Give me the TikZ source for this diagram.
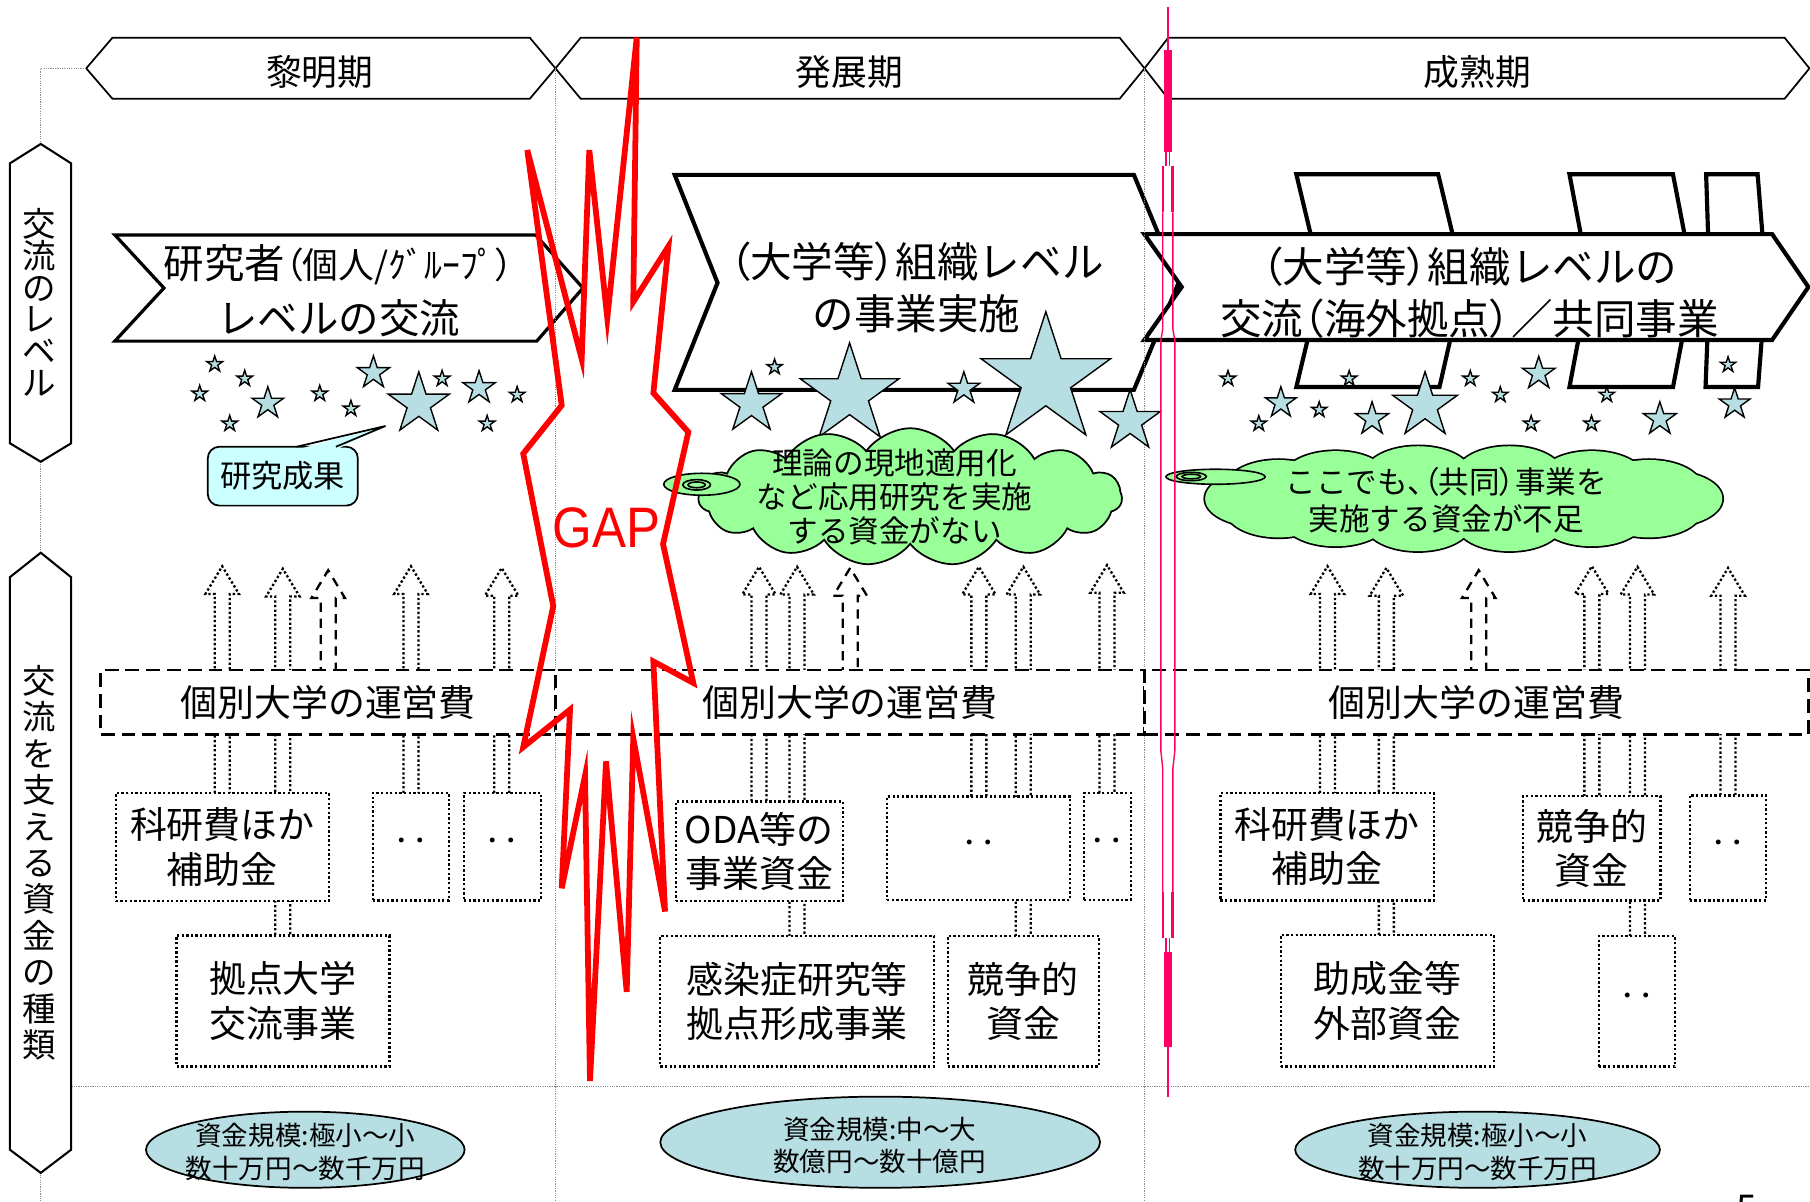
\documentclass[tikz,border=0pt]{standalone}
\usepackage{fontspec}
\setmainfont{Noto Sans CJK JP}
\newfontfamily\pfont{Noto Sans CJK JP}[RawFeature=+palt]
\newfontfamily\gapfont{Liberation Sans}
\usetikzlibrary{shapes.symbols,shapes.geometric}
\newlength{\rr}\setlength{\rr}{0.5pt}
\definecolor{starblue}{HTML}{B7DEE2}
\definecolor{callcyan}{HTML}{CCFFFF}
\definecolor{cloudgreen}{HTML}{99FF99}
\definecolor{pinkline}{HTML}{FF0066}
\tikzset{
 hdr/.style={draw=black, line width=0.75pt},
 hdrtext/.style={font=\fontsize{15.5}{15.5}\selectfont, inner sep=0},
 bannerA/.style={draw=black, line width=1.4pt, fill=white},
 bannerB/.style={draw=black, line width=1.8pt, fill=white},
 guide/.style={draw=black!45, line width=0.4pt, dash pattern=on 0.5pt off 0.5pt},
 sidebox/.style={draw=black, line width=0.9pt, fill=white},
 starsty/.style={draw=black, line width=0.6pt, fill=starblue},
 dotbox/.style={draw=black, line width=1pt, dash pattern=on 1pt off 1pt, fill=white, inner sep=0, align=center, font=\fontsize{16}{19.25}\selectfont},
 dotarrow/.style={draw=black, line width=1pt, dash pattern=on 1pt off 1pt},
 dasharrow/.style={draw=black, line width=1pt, dash pattern=on 4pt off 3pt},
 opbox/.style={draw=black, line width=1.2pt, dash pattern=on 6pt off 3pt, fill=white, inner sep=0, font=\fontsize{16}{16}\selectfont},
 ellsty/.style={ellipse, draw=black, line width=0.75pt, fill=starblue, inner sep=0},
 elltext/.style={font=\fontsize{11.5}{14}\selectfont, align=center, inner sep=0},
 cloudsty/.style={cloud, cloud ignores aspect, draw=black, line width=0.75pt, fill=cloudgreen, inner sep=0},
 puffedge/.style={draw=black, line width=1.5pt, fill=cloudgreen},
 tailsty/.style={draw=black, line width=0.7pt, fill=cloudgreen},
 gapline/.style={draw=red, line width=2.5pt},
 pinkthin/.style={draw=pinkline, line width=0.6pt},
}
\newcommand{\mystar}[3]{\filldraw[starsty,shift={(#1,#2)}] (270:#3) -- (306:{0.382*#3}) -- (342:#3) -- (18:{0.382*#3}) -- (54:#3) -- (90:{0.382*#3}) -- (126:#3) -- (162:{0.382*#3}) -- (198:#3) -- (234:{0.382*#3}) -- cycle;}
\newcommand{\uparr}[4]{\draw[#4] ({#1-6.5},#2) -- ({#1-6.5},{#3+24}) -- ({#1-14.5},{#3+24}) -- (#1,#3) -- ({#1+14.5},{#3+24}) -- ({#1+6.5},{#3+24}) -- ({#1+6.5},#2);}
\begin{document}
\begin{tikzpicture}[x=0.5pt,y=-0.5pt]
\fill[white] (0,0) rectangle (1568,1041);
\useasboundingbox (0,0) rectangle (1568,1041);

% ---------- headers
\draw[hdr] (74.7,59.2) -- (97.4,32.7) -- (459,32.7) -- (481.2,59.2) -- (459,85.5) -- (97.4,85.5) -- cycle;
\draw[hdr] (481.2,59.2) -- (503,32.7) -- (970,32.7) -- (991.5,59.2) -- (970,85.5) -- (503,85.5) -- cycle;
\draw[hdr] (991.5,59.2) -- (1012,32.7) -- (1546,32.7) -- (1567.5,59.2) -- (1546,85.5) -- (1012,85.5) -- cycle;
\node[hdrtext] (h1t) at (277,62) {黎明期};
\node[hdrtext] (h2t) at (736,62) {発展期};
\node[hdrtext] (h3t) at (1280,62) {成熟期};

% ---------- banners
\draw[bannerA] (99.5,203.5) -- (464,203.5) -- (505,249.5) -- (465,295.5) -- (99.5,295.5) -- (142,249.5) -- cycle;
\draw[bannerB] (584.5,151.5) -- (982.3,151.5) -- (1021,245) -- (982.3,337.7) -- (584.5,337.7) -- (621.6,245) -- cycle;
\draw[bannerB] (1123,151) -- (1245.9,151) -- (1268,243) -- (1247,335.3) -- (1123,335.3) -- (1145,243) -- cycle;
\draw[bannerB] (1359.6,151) -- (1449.3,151) -- (1467,243) -- (1449.3,335.3) -- (1359.6,335.3) -- (1377,243) -- cycle;
\draw[bannerB] (1478,151) -- (1522.6,151) -- (1530,243) -- (1523,335.3) -- (1477.5,335.3) -- (1481,243) -- cycle;
\draw[bannerB] (991.3,202.8) -- (1535.2,202.8) -- (1566.6,248.6) -- (1535.2,294.5) -- (991.3,294.5) -- (1023.7,248.6) -- cycle;
\node[font=\fontsize{17.5}{24}\selectfont, align=center, inner sep=0] (b1t) at (293.5,252)
  {研究者{\fontsize{15.5}{24}\selectfont{\pfont （}個人/ｸﾞﾙｰﾌﾟ{\pfont ）}}\\レベルの交流};
\node[font=\fontsize{18}{22.75}\selectfont, align=center, inner sep=0] (b2t) at (794,249)
  {{\pfont （}大学等{\pfont ）}組織レベル\\の事業実施};
\node[font=\fontsize{18}{22.5}\selectfont, align=center, inner sep=0] (b3t) at (1273,253.5)
  {{\pfont （}大学等{\pfont ）}組織レベルの\\交流{\pfont （}海外拠点{\pfont ）}／共同事業};

% ---------- guides
\draw[guide] (74.7,59.2) -- (35.3,59.2) -- (35.3,1041);
\draw[guide] (481.2,59.2) -- (481.2,1041);
\draw[guide] (991.5,59.2) -- (991.5,1041);
\draw[guide] (62,941) -- (1568,941);

% ---------- side boxes
\draw[sidebox] (35.3,124.7) -- (61.6,141.5) -- (61.6,384) -- (35.3,400) -- (8.6,384) -- (8.6,141.5) -- cycle;
\draw[sidebox] (35.3,478.8) -- (61.6,500) -- (61.6,996) -- (35.3,1016) -- (8.6,996) -- (8.6,500) -- cycle;
\node[font=\fontsize{14.5}{13.75}\selectfont, align=center, inner sep=0] (s1t) at (34,262) {交\\流\\の\\レ\\ベ\\ル};
\node[font=\fontsize{14.5}{15.8}\selectfont, align=center, inner sep=0] (s2t) at (34,747.4) {交\\流\\を\\支\\え\\る\\資\\金\\の\\種\\類};

% ---------- stars under B1
\mystar{186}{315.5}{7.2}
\mystar{212}{328}{7.2}
\mystar{173}{341}{7.2}
\mystar{232}{349.4}{14.4}
\mystar{277}{341}{7.2}
\mystar{199}{367}{7.2}
\mystar{304}{354}{7.2}
\mystar{323.5}{323}{14.7}
\mystar{362.8}{350}{27.9}
\mystar{383}{328}{7.2}
\mystar{415}{336}{14.9}
\mystar{448}{342}{7.2}
\mystar{422}{367}{7.2}
% stars under B2
\mystar{671}{318}{7}
\mystar{651}{349.5}{27.5}
\mystar{736}{342}{45}
\mystar{835}{336.5}{14.5}
\mystar{906}{329}{59}
\mystar{979}{365}{27.5}
% stars under B3
\mystar{1063.8}{328}{7}
\mystar{1168.8}{328}{7}
\mystar{1273.7}{328}{7}
\mystar{1333}{323.6}{15}
\mystar{1497}{316}{7}
\mystar{1109.6}{349}{14}
\mystar{1142.8}{355}{7}
\mystar{1299.7}{342}{7}
\mystar{1392}{342}{7}
\mystar{1188.6}{363}{15}
\mystar{1234.5}{351.5}{29.5}
\mystar{1090.5}{367}{7}
\mystar{1326.4}{367}{7}
\mystar{1378.7}{367}{7}
\mystar{1437.9}{363}{15}
\mystar{1502.7}{350}{14}

% ---------- callout 研究成果
\node[draw=black, line width=0.75pt, fill=callcyan, rounded corners=5pt, minimum width=130\rr, minimum height=51\rr, inner sep=0, font=\fontsize{13.5}{13.5}\selectfont] (kenkyu) at (245,412.5) {研究成果};
\fill[callcyan] (257,389.5) -- (334,369) -- (291,389.5) -- cycle;
\draw[line width=0.75pt] (257,387) -- (334,369) -- (291,387);

% ---------- cloud 1
\node[cloudsty, cloud puffs=15, cloud puff arc=110, minimum width=367\rr, minimum height=119\rr] (cloud1) at (788.5,430.5) {};
\draw[tailsty] (608,419.5) ellipse [x radius=33, y radius=9.5];
\draw[tailsty] (603.5,420) ellipse [x radius=12, y radius=4.5];
\draw[tailsty] (603.5,420) ellipse [x radius=7.5, y radius=2.5];
\node[font=\fontsize{13.25}{14.6}\selectfont, align=center, inner sep=0] (c1t) at (775,430.6) {理論の現地適用化\\など応用研究を実施\\する資金がない};

% ---------- cloud 2 (union of puffs: outline pass, then fill pass)
\foreach \a in {0,25.714,...,340} {
  \filldraw[puffedge, shift={(1268,432)}] ({178*cos(\a)},{22*sin(\a)}) ellipse [x radius=46, y radius=24];
}
\foreach \a in {0,25.714,...,340} {
  \fill[cloudgreen, shift={(1268,432)}] ({178*cos(\a)},{22*sin(\a)}) ellipse [x radius=46, y radius=24];
}
\fill[cloudgreen] (1268,432) ellipse [x radius=178, y radius=24];
\draw[tailsty] (1053,413) ellipse [x radius=43, y radius=6.5];
\draw[tailsty] (1032,412.8) ellipse [x radius=13, y radius=3.6];
\draw[tailsty] (1032,412.8) ellipse [x radius=8, y radius=2];
\node[font=\fontsize{13.25}{16}\selectfont, align=center, inner sep=0] (c2t) at (1253,433) {ここでも{\pfont 、（}共同{\pfont ）}事業を\\実施する資金が不足};

% ---------- up arrows
\uparr{192.5}{687}{490.5}{dotarrow}
\uparr{245}{810}{492.7}{dotarrow}
\uparr{284.3}{600}{494}{dasharrow}
\uparr{356}{687}{490.5}{dotarrow}
\uparr{434.6}{687}{492}{dotarrow}
\uparr{657.5}{694}{491}{dotarrow}
\uparr{690.5}{811}{491}{dotarrow}
\uparr{736.5}{600}{492}{dasharrow}
\uparr{848}{690}{491}{dotarrow}
\uparr{886.5}{811}{491}{dotarrow}
\uparr{959}{687}{489.5}{dotarrow}
\uparr{1150}{687}{490.5}{dotarrow}
\uparr{1201}{810}{492}{dotarrow}
\uparr{1281}{600}{494}{dasharrow}
\uparr{1379}{690}{490.5}{dotarrow}
\uparr{1418.5}{811}{491}{dotarrow}
\uparr{1497}{689}{492}{dotarrow}

% ---------- funding boxes
\node[dotbox, minimum width=184.7\rr, minimum height=93.5\rr] (g1a) at (192.65,733.75) {科研費ほか\\補助金};
\node[dotbox, minimum width=66\rr, minimum height=93\rr] (g1b) at (356,733.5) {‥};
\node[dotbox, minimum width=66.5\rr, minimum height=93\rr] (g1c) at (435.25,733.5) {‥};
\node[dotbox, minimum width=184.3\rr, minimum height=113.7\rr] (g1d) at (245.15,867.15) {拠点大学\\交流事業};
\node[dotbox, minimum width=144.5\rr, minimum height=85.9\rr] (g2a) at (657.75,737.35) {ODA等の\\事業資金};
\node[dotbox, minimum width=158.6\rr, minimum height=89.6\rr] (g2b) at (847.7,734.8) {‥};
\node[dotbox, minimum width=40.5\rr, minimum height=92.6\rr] (g2c) at (959.25,733.3) {‥};
\node[dotbox, minimum width=237\rr, minimum height=113\rr] (g2d) at (690.5,867.5) {感染症研究等\\拠点形成事業};
\node[dotbox, minimum width=131\rr, minimum height=113\rr] (g2e) at (886.5,867.5) {競争的\\資金};
\node[dotbox, minimum width=184.7\rr, minimum height=93\rr] (g3a) at (1149.65,733.5) {科研費ほか\\補助金};
\node[dotbox, minimum width=119.1\rr, minimum height=90.3\rr] (g3b) at (1379.05,734.85) {競争的\\資金};
\node[dotbox, minimum width=66.2\rr, minimum height=91\rr] (g3c) at (1496.9,734.5) {‥};
\node[dotbox, minimum width=184.4\rr, minimum height=114\rr] (g3d) at (1201.8,867) {助成金等\\外部資金};
\node[dotbox, minimum width=66\rr, minimum height=113\rr] (g3e) at (1418,867.5) {‥};

% ---------- operating budget boxes
\node[opbox, minimum width=393.9\rr, minimum height=55.6\rr] (op1) at (284.25,608.2) {個別大学の運営費};
\node[opbox, minimum width=510.2\rr, minimum height=55.6\rr] (op2) at (736.3,608.2) {個別大学の運営費};
\node[opbox, minimum width=575.6\rr, minimum height=55.6\rr] (op3) at (1279.2,608.2) {個別大学の運営費};

% ---------- scale ellipses
\node[ellsty, minimum width=276\rr, minimum height=66\rr] (e1) at (264.5,996) {};
\node[ellsty, minimum width=381\rr, minimum height=79\rr] (e2) at (762.5,989.5) {};
\node[ellsty, minimum width=316\rr, minimum height=66\rr] (e3) at (1280,996) {};
\node[elltext] (e1t) at (264.5,998) {資金規模:極小～小\\数十万円～数千万円};
\node[elltext] (e2t) at (762,992.3) {資金規模:中～大\\数億円～数十億円};
\node[elltext] (e3t) at (1280,998) {資金規模:極小～小\\数十万円～数千万円};

% ---------- GAP explosion
\draw[gapline] (551.6,32.5) -- (548.6,261.5) -- (579,213.5) -- (566,340.4) -- (596.3,374.3) -- (574.4,471.3) -- (600.6,591.6) -- (566,573) -- (576.1,789.6) -- (548.6,639.5) -- (542.9,859.2) -- (525,659.6) -- (511.1,936.5) -- (506.8,672) -- (486.6,769.5) -- (493.8,614.7) -- (453.3,647.2) -- (479.3,525.1) -- (453.3,393) -- (486.6,351.2) -- (456.8,130) -- (503.9,311) -- (510.5,130) -- (526.1,275.4) -- cycle;
\node[text=red, font=\gapfont\fontsize{24}{24}\selectfont, inner sep=0] (gap) at (525.5,457) {\scalebox{0.92}[1.03]{GAP}};

% ---------- pink divider
\draw[draw=pinkline, line width=0.9pt] (1011.6,6) -- (1011.6,43);
\fill[pinkline] (1008.4,43) rectangle (1015,131.5);
\draw[pinkthin] (1010.2,131.5) -- (1010.2,144);
\draw[pinkthin] (1013.2,131.5) -- (1013.2,144);
\fill[pinkline] (1006.3,144) rectangle (1008.6,184);
\fill[pinkline] (1014.8,144) rectangle (1017.1,184);
\draw[pinkthin] (1007.3,184) -- (1007.3,285) -- (1005.6,295) -- (1005.6,650) -- (1007.3,666) -- (1007.3,772.6);
\draw[pinkthin] (1016,184) -- (1016,285) -- (1017.8,295) -- (1017.8,650) -- (1016,666) -- (1016,772.6);
\fill[pinkline] (1006.3,772.6) rectangle (1008.6,812.8);
\fill[pinkline] (1014.8,772.6) rectangle (1017.1,812.8);
\draw[pinkthin] (1010.2,812.8) -- (1010.2,825);
\draw[pinkthin] (1013.2,812.8) -- (1013.2,825);
\fill[pinkline] (1008.4,825) rectangle (1015,907);
\draw[draw=pinkline, line width=0.9pt] (1011.6,907) -- (1011.6,950.5);

% ---------- page number (cut by the lower edge, as in the reference)
\node[font=\fontsize{16}{16}\selectfont, anchor=north, inner sep=0] (pg) at (1513,1035) {5};
\end{tikzpicture}
\end{document}
